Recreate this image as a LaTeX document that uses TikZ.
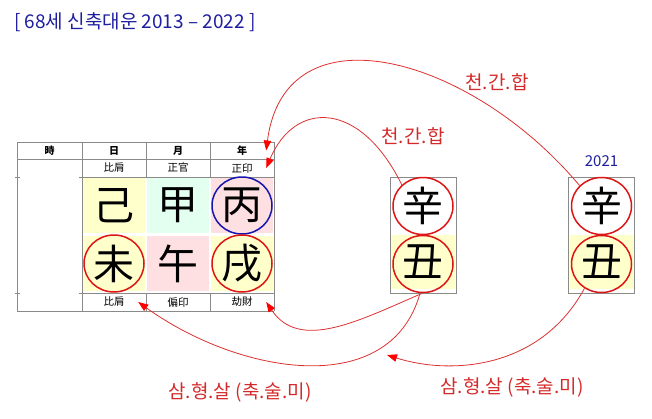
\documentclass[tikz,border=0pt]{standalone}
\usepackage{fontspec}
\setmainfont{Noto Sans CJK KR}
\usetikzlibrary{shapes.geometric, arrows.meta, positioning}
\definecolor{titleblue}{HTML}{1E1EA0}
\definecolor{gridgray}{HTML}{8A8A8A}
\definecolor{cellyellow}{HTML}{FFFFCC}
\definecolor{cellgreen}{HTML}{E2FFF0}
\definecolor{cellpink}{HTML}{FFE0E2}
\definecolor{ringred}{HTML}{DD1515}
\definecolor{ringblue}{HTML}{1515B0}
\definecolor{linered}{HTML}{DD3030}
\definecolor{tipred}{HTML}{FF0000}
\definecolor{textred}{HTML}{D42A2A}
\tikzset{
    tableline/.style={draw=gridgray, line width=0.8pt},
    head/.style={font=\fontsize{10}{12}\selectfont\bfseries, inner sep=0pt, minimum width=64pt, minimum height=17pt},
    tag/.style={font=\fontsize{10.5}{12}\selectfont, inner sep=0pt, minimum width=64pt, minimum height=17pt},
    cell/.style={rectangle, inner sep=0pt, minimum width=62pt, minimum height=55pt, font=\fontsize{41}{41}\selectfont},
    ring/.style={ellipse, draw=ringred, line width=1.5pt, inner sep=0pt, minimum width=60pt, minimum height=57pt},
    pillar/.style={rectangle, draw=gridgray, line width=0.8pt, minimum width=66pt, minimum height=116pt},
    arrow/.style={draw=linered, line width=0.8pt, -{Triangle[length=10pt, width=7.5pt, color=tipred]}},
    hap/.style={text=textred, font=\fontsize{19}{21}\selectfont, inner sep=0pt}
}
\begin{document}
\begin{tikzpicture}[x=1pt, y=-1pt]
    \useasboundingbox (0,0) rectangle (652,418);
    % Title
    \node (title) [anchor=west, text=titleblue, font=\fontsize{19}{21}\selectfont, inner sep=0pt] at (14,22) {[ 68세 신축대운 2013 – 2022 ]};

    % Cell fills
    \node (c11) [cell, fill=cellyellow] at (114,205.5) {己};
    \node (c12) [cell, fill=cellgreen] at (178,205.5) {甲};
    \node (c13) [cell, fill=cellpink] at (242,205.5) {丙};
    \node (c21) [cell, fill=cellyellow] at (114,263.5) {未};
    \node (c22) [cell, fill=cellpink] at (178,263.5) {午};
    \node (c23) [cell, fill=cellyellow] at (242,263.5) {戌};

    % Table lines
    \draw [tableline] (17,142) -- (274,142) (17,159) -- (274,159) (82,177) -- (274,177)
        (82,293) -- (274,293) (17,311) -- (274,311);
    \draw [tableline] (17,142) -- (17,311) (82,142) -- (82,311) (274,142) -- (274,311)
        (146,142) -- (146,177) (210,142) -- (210,177) (146,293) -- (146,311) (210,293) -- (210,311);
    \draw [tableline] (15,177) -- (20,177) (79,177) -- (82,177) (15,293) -- (20,293) (79,293) -- (82,293);

    % Header row and tags
    \node (hd1) [head] at (49.5,150.5) {時};
    \node (hd2) [head] at (114,150.5) {日};
    \node (hd3) [head] at (178,150.5) {月};
    \node (hd4) [head] at (242,150.5) {年};
    \node (t1) [tag] at (114,168) {比肩};
    \node (t2) [tag] at (178,168) {正官};
    \node (t3) [tag] at (242,168) {正印};
    \node (b1) [tag] at (114,302) {比肩};
    \node (b2) [tag] at (178,302) {偏印};
    \node (b3) [tag] at (242,302) {劫財};

    % Rings in the table
    \node (r13) [ring, draw=ringblue] at (c13) {};
    \node (r21) [ring] at (c21) {};
    \node (r23) [ring] at (c23) {};

    % Incoming pillars
    \node (p1) [pillar] at (423,235) {};
    \node (p1t) [cell, minimum width=64pt] at (423,206) {辛};
    \node (p1b) [cell, fill=cellyellow, minimum width=64pt, minimum height=54pt] at (423,262) {丑};
    \node (r1t) [ring] at (p1t) {};
    \node (r1b) [ring] at (423,264) {};
    \node (p2) [pillar] at (601.5,235) {};
    \node (p2t) [cell, minimum width=64pt] at (601.5,206) {辛};
    \node (p2b) [cell, fill=cellyellow, minimum width=64pt, minimum height=54pt] at (601.5,262) {丑};
    \node (r2t) [ring] at (p2t) {};
    \node (r2b) [ring] at (601.5,264) {};
    \node (y21) [text=titleblue, font=\fontsize{15}{17}\selectfont, inner sep=0pt, above=10pt of p2] {2021};

    % Heavenly stem unions
    \draw [arrow] (r1t.135) .. controls (360,100) and (295,100) .. ([xshift=-8pt]t3.east);
    \draw [arrow] (r2t.137) .. controls (470,55) and (285,5) .. ([xshift=-8pt]hd4.east);
    \node (h1) [hap] at (497,82) {천.간.합};
    \node (h2) [hap] at (413,136) {천.간.합};

    % Three punishments
    \coordinate (m5) at (387,355);
    \draw [arrow] ([xshift=-1pt]p1.south) .. controls (360,320) and (300,352) .. ([xshift=-8pt]b3.east);
    \draw [arrow] ([xshift=-3pt]p1.south) .. controls (390,400) and (240,375) .. ([xshift=-8pt]b1.east);
    \draw [arrow] (r2b.235) .. controls (540,370) and (450,375) .. (m5);
    \node (s1) [hap] at (240,392) {삼.형.살 (축.술.미)};
    \node (s2) [hap] at (512,387) {삼.형.살 (축.술.미)};
\end{tikzpicture}
\end{document}
